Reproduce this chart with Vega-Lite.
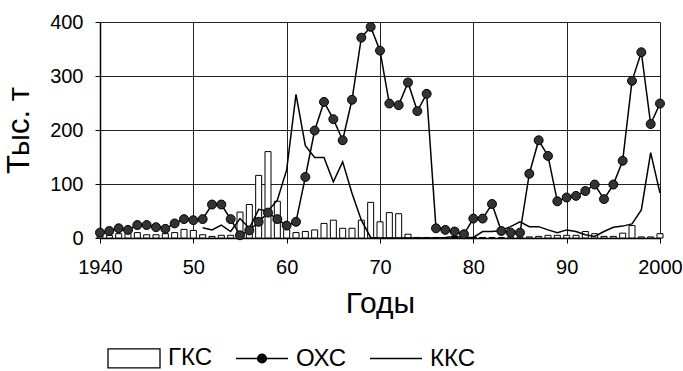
{
  "$schema": "https://vega.github.io/schema/vega-lite/v6.json",
  "width": 560,
  "height": 216,
  "autosize": {"type": "none"},
  "padding": {"left": 100, "top": 22, "right": 23, "bottom": 133},
  "background": "white",
  "config": {
    "font": "Liberation Sans",
    "view": {"stroke": null},
    "axis": {
      "labelFont": "Liberation Sans",
      "labelFontSize": 20,
      "labelColor": "black",
      "titleFont": "Liberation Sans",
      "titleFontSize": 30,
      "titleFontWeight": "normal",
      "titleColor": "black",
      "domainColor": "black",
      "domainWidth": 1.5,
      "tickColor": "black",
      "tickSize": 5,
      "gridColor": "#222",
      "gridOpacity": 1,
      "gridWidth": 1
    },
    "legend": {
      "title": null,
      "orient": "none",
      "legendX": 7,
      "legendY": 309,
      "direction": "horizontal",
      "symbolSize": 2704,
      "symbolStrokeColor": "black",
      "symbolStrokeWidth": 1.3,
      "labelFont": "Liberation Sans",
      "labelFontSize": 24,
      "labelColor": "black",
      "labelOffset": 7,
      "columnPadding": 20
    }
  },
  "data": {
    "values": [
      {"year": 1940, "gks": 3, "ohs": 10, "kks": null},
      {"year": 1941, "gks": 5, "ohs": 13, "kks": null},
      {"year": 1942, "gks": 8, "ohs": 18, "kks": null},
      {"year": 1943, "gks": 8, "ohs": 15, "kks": null},
      {"year": 1944, "gks": 10, "ohs": 24, "kks": null},
      {"year": 1945, "gks": 6, "ohs": 24, "kks": null},
      {"year": 1946, "gks": 6, "ohs": 20, "kks": null},
      {"year": 1947, "gks": 8, "ohs": 17, "kks": null},
      {"year": 1948, "gks": 10, "ohs": 27, "kks": null},
      {"year": 1949, "gks": 16, "ohs": 35, "kks": null},
      {"year": 1950, "gks": 14, "ohs": 33, "kks": null},
      {"year": 1951, "gks": 6, "ohs": 35, "kks": 19},
      {"year": 1952, "gks": 3, "ohs": 62, "kks": 15},
      {"year": 1953, "gks": 5, "ohs": 62, "kks": 24},
      {"year": 1954, "gks": 5, "ohs": 35, "kks": 12},
      {"year": 1955, "gks": 48, "ohs": 5, "kks": 36},
      {"year": 1956, "gks": 62, "ohs": 14, "kks": 18},
      {"year": 1957, "gks": 116, "ohs": 30, "kks": 53},
      {"year": 1958, "gks": 160, "ohs": 47, "kks": 50},
      {"year": 1959, "gks": 68, "ohs": 35, "kks": 70},
      {"year": 1960, "gks": 16, "ohs": 23, "kks": 126},
      {"year": 1961, "gks": 10, "ohs": 30, "kks": 266},
      {"year": 1962, "gks": 12, "ohs": 113, "kks": 171},
      {"year": 1963, "gks": 15, "ohs": 199, "kks": 149},
      {"year": 1964, "gks": 27, "ohs": 252, "kks": 149},
      {"year": 1965, "gks": 33, "ohs": 220, "kks": 104},
      {"year": 1966, "gks": 18, "ohs": 181, "kks": 141},
      {"year": 1967, "gks": 18, "ohs": 256, "kks": 83},
      {"year": 1968, "gks": 33, "ohs": 371, "kks": 33},
      {"year": 1969, "gks": 66, "ohs": 391, "kks": 1},
      {"year": 1970, "gks": 30, "ohs": 347, "kks": 0},
      {"year": 1971, "gks": 47, "ohs": 249, "kks": 0},
      {"year": 1972, "gks": 45, "ohs": 246, "kks": 0},
      {"year": 1973, "gks": 7, "ohs": 288, "kks": 0},
      {"year": 1974, "gks": 1, "ohs": 235, "kks": 0},
      {"year": 1975, "gks": 1, "ohs": 267, "kks": 0},
      {"year": 1976, "gks": 1, "ohs": 18, "kks": 0},
      {"year": 1977, "gks": 1, "ohs": 15, "kks": 1},
      {"year": 1978, "gks": 1, "ohs": 12, "kks": 3},
      {"year": 1979, "gks": 1, "ohs": 7, "kks": 1},
      {"year": 1980, "gks": 1, "ohs": 36, "kks": 1},
      {"year": 1981, "gks": 1, "ohs": 36, "kks": 12},
      {"year": 1982, "gks": 1, "ohs": 63, "kks": 12},
      {"year": 1983, "gks": 1, "ohs": 13, "kks": 14},
      {"year": 1984, "gks": 2, "ohs": 10, "kks": 21},
      {"year": 1985, "gks": 2, "ohs": 10, "kks": 30},
      {"year": 1986, "gks": 2, "ohs": 119, "kks": 21},
      {"year": 1987, "gks": 3, "ohs": 181, "kks": 21},
      {"year": 1988, "gks": 5, "ohs": 152, "kks": 15},
      {"year": 1989, "gks": 5, "ohs": 68, "kks": 10},
      {"year": 1990, "gks": 5, "ohs": 75, "kks": 15},
      {"year": 1991, "gks": 5, "ohs": 78, "kks": 12},
      {"year": 1992, "gks": 12, "ohs": 87, "kks": 6},
      {"year": 1993, "gks": 8, "ohs": 99, "kks": 3},
      {"year": 1994, "gks": 3, "ohs": 72, "kks": 12},
      {"year": 1995, "gks": 3, "ohs": 99, "kks": 20},
      {"year": 1996, "gks": 9, "ohs": 143, "kks": 22},
      {"year": 1997, "gks": 23, "ohs": 291, "kks": 26},
      {"year": 1998, "gks": 2, "ohs": 344, "kks": 52},
      {"year": 1999, "gks": 2, "ohs": 211, "kks": 158},
      {"year": 2000, "gks": 8, "ohs": 249, "kks": 83}
    ]
  },
  "encoding": {
    "x": {
      "field": "year",
      "type": "quantitative",
      "scale": {"domain": [1940, 2000], "nice": false, "zero": false, "padding": 0},
      "axis": {
        "title": "Годы",
        "values": [1940, 1950, 1960, 1970, 1980, 1990, 2000],
        "format": "d",
        "labelExpr": "datum.value == 1940 || datum.value == 2000 ? '' + datum.value : '' + (datum.value % 100)",
        "grid": true,
        "labelPadding": 14,
        "titlePadding": 11,
        "labelFlush": false
      }
    }
  },
  "layer": [
    {
      "mark": {"type": "bar", "fill": "white", "strokeWidth": 1, "size": 6},
      "encoding": {
        "y": {
          "field": "gks",
          "type": "quantitative",
          "scale": {"domain": [0, 400]},
          "axis": {
            "title": "Тыс. т",
            "titleFontSize": 31,
            "values": [0, 100, 200, 300, 400],
            "grid": true,
            "labelPadding": 12,
            "titlePadding": 14
          }
        },
        "stroke": {
          "datum": "ГКС",
          "type": "nominal",
          "scale": {"domain": ["ГКС", "ОХС", "ККС"], "range": ["black", "black", "black"]},
          "legend": {
            "symbolType": {"expr": "datum.value === 'ГКС' ? 'M-1,-0.365H1V0.365H-1Z' : datum.value === 'ОХС' ? 'M-1,0H1M0.17,0A0.17,0.17 0 1,1 -0.17,0A0.17,0.17 0 1,1 0.17,0ZM0.12,0A0.12,0.12 0 1,1 -0.12,0A0.12,0.12 0 1,1 0.12,0ZM0.07,0A0.07,0.07 0 1,1 -0.07,0A0.07,0.07 0 1,1 0.07,0ZM0.03,0A0.03,0.03 0 1,1 -0.03,0A0.03,0.03 0 1,1 0.03,0Z' : 'M-1,0H1'"},
            "symbolFillColor": "white",
            "symbolOpacity": 1
          }
        }
      }
    },
    {
      "mark": {"type": "line", "strokeWidth": 1.5},
      "encoding": {
        "y": {"field": "kks", "type": "quantitative"},
        "stroke": {"datum": "ККС", "type": "nominal"}
      }
    },
    {
      "mark": {"type": "line", "strokeWidth": 1.5},
      "encoding": {
        "y": {"field": "ohs", "type": "quantitative"},
        "stroke": {"datum": "ОХС", "type": "nominal"}
      }
    },
    {
      "mark": {"type": "point", "filled": true, "fill": "#333", "size": 80, "strokeWidth": 1, "opacity": 1},
      "encoding": {
        "y": {"field": "ohs", "type": "quantitative"},
        "stroke": {"datum": "ОХС", "type": "nominal"}
      }
    }
  ]
}
